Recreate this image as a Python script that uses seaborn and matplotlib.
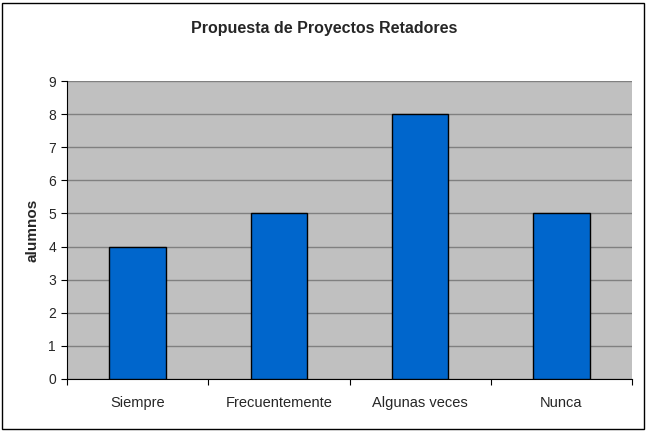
import matplotlib
matplotlib.use("Agg")
import matplotlib.pyplot as plt
import seaborn as sns
import pandas as pd
from matplotlib.patches import Rectangle
from matplotlib.ticker import FixedLocator, NullFormatter

categories = ["Siempre", "Frecuentemente", "Algunas veces", "Nunca"]
values = [4, 5, 8, 5]
title = "Propuesta de Proyectos Retadores"
ylabel = "alumnos"

sns.set_style("white")
plt.rcParams['font.family'] = ['Liberation Sans', 'DejaVu Sans']

df = pd.DataFrame({"cat": categories, "val": values})

fig = plt.figure(figsize=(6.48, 4.36), dpi=100)
ax = fig.add_axes([67/648, 1 - 379/436, (632-67)/648, (379-81)/436])

sns.barplot(data=df, x="cat", y="val", ax=ax, color="#0066CC", width=0.4,
            edgecolor="black", linewidth=1.0, saturation=1, zorder=3)

ax.set_facecolor("#C0C0C0")
ax.set_ylim(0, 9)
ax.set_xlim(-0.5, 3.5)
ax.set_yticks(range(0, 10))
ax.yaxis.grid(True, color="#808080", linewidth=1.0, zorder=0)
ax.set_axisbelow(True)

for s in ["top", "right"]:
    ax.spines[s].set_visible(False)
ax.spines["left"].set_color("black")
ax.spines["bottom"].set_color("black")
ax.spines["left"].set_linewidth(0.8)
ax.spines["bottom"].set_linewidth(0.8)

ax.tick_params(axis="y", which="major", direction="out", length=4, width=0.8,
               color="black", labelsize=10, pad=4, left=True)
ax.tick_params(axis="x", which="major", length=0, labelsize=10.5, pad=12)
ax.xaxis.set_minor_locator(FixedLocator([-0.5, 0.5, 1.5, 2.5, 3.5]))
ax.xaxis.set_minor_formatter(NullFormatter())
ax.tick_params(axis="x", which="minor", direction="out", length=4, width=0.8,
               color="black", bottom=True)

ax.set_xlabel("")
ax.set_ylabel(ylabel, fontsize=11, fontweight="bold", labelpad=6)
fig.text(0.5, 1 - 29/436, title, ha="center", va="center",
         fontsize=11.5, fontweight="bold")

fig.patches.append(Rectangle((2/648, 1 - 429/436), 642/648, 426/436,
                             transform=fig.transFigure, fill=False,
                             edgecolor="black", linewidth=1.0))

fig.savefig("out.png", dpi=100, facecolor="white")
